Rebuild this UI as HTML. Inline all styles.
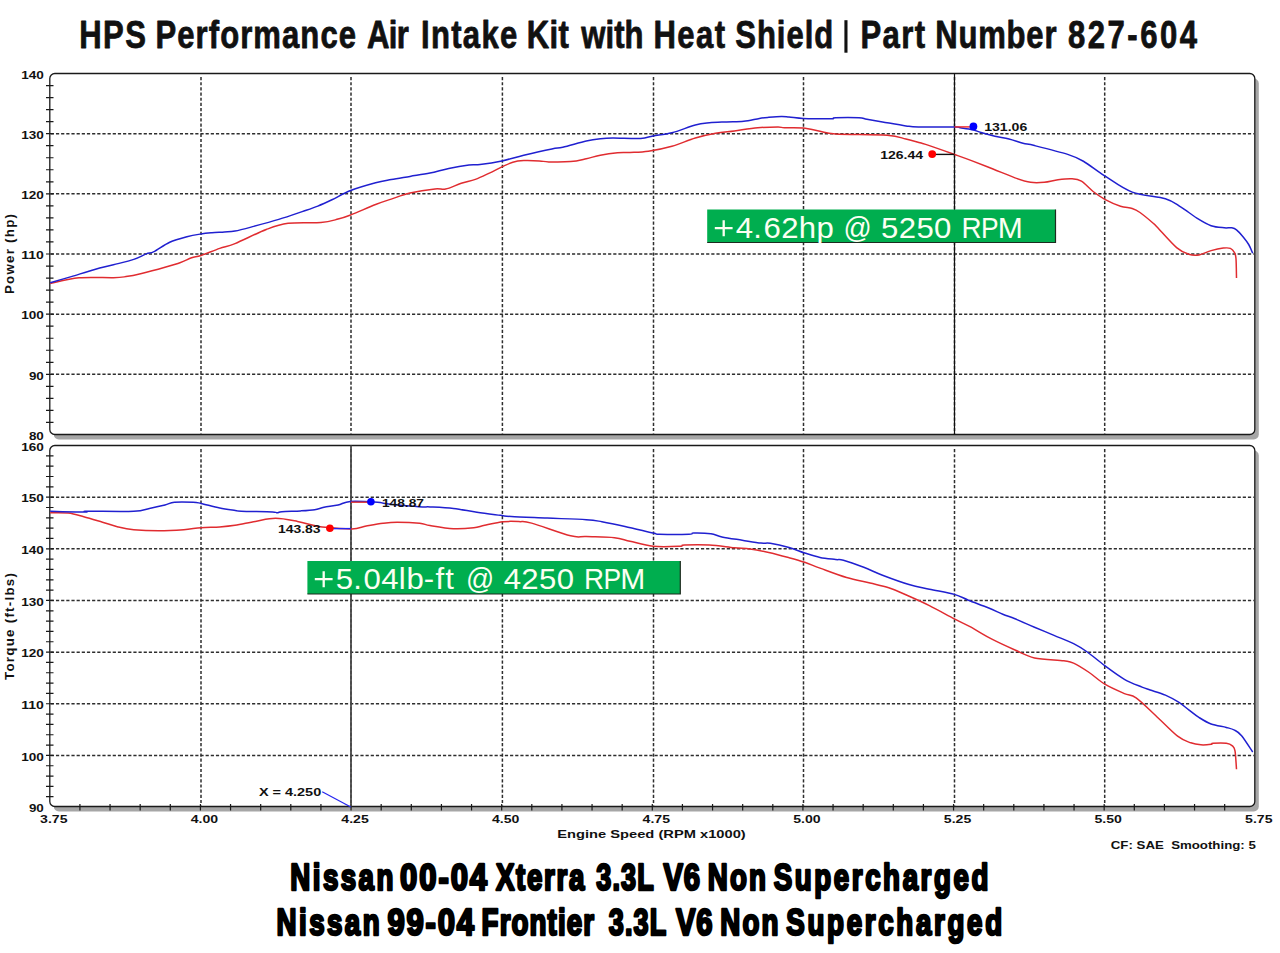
<!DOCTYPE html><html><head><meta charset="utf-8"><style>html,body{margin:0;padding:0;background:#fff;}svg{display:block;}</style></head><body>
<svg width="1280" height="953" viewBox="0 0 1280 953">
<text transform="translate(79.25,47.9) scale(0.8,1)" x="0" y="0" font-family='"Liberation Sans", sans-serif' font-weight="bold" font-size="38.8" fill="#111" stroke="#111" stroke-width="0.8" stroke-linejoin="round" textLength="83.44" lengthAdjust="spacing">HPS</text>
<text transform="translate(155.5,47.9) scale(0.8,1)" x="0" y="0" font-family='"Liberation Sans", sans-serif' font-weight="bold" font-size="38.8" fill="#111" stroke="#111" stroke-width="0.8" stroke-linejoin="round" textLength="250.62" lengthAdjust="spacing">Performance</text>
<text transform="translate(367,47.9) scale(0.8,1)" x="0" y="0" font-family='"Liberation Sans", sans-serif' font-weight="bold" font-size="38.8" fill="#111" stroke="#111" stroke-width="0.8" stroke-linejoin="round" textLength="52.19" lengthAdjust="spacing">Air</text>
<text transform="translate(421,47.9) scale(0.8,1)" x="0" y="0" font-family='"Liberation Sans", sans-serif' font-weight="bold" font-size="38.8" fill="#111" stroke="#111" stroke-width="0.8" stroke-linejoin="round" textLength="120.31" lengthAdjust="spacing">Intake</text>
<text transform="translate(526.75,47.9) scale(0.8,1)" x="0" y="0" font-family='"Liberation Sans", sans-serif' font-weight="bold" font-size="38.8" fill="#111" stroke="#111" stroke-width="0.8" stroke-linejoin="round" textLength="52.50" lengthAdjust="spacing">Kit</text>
<text transform="translate(581.25,47.9) scale(0.8,1)" x="0" y="0" font-family='"Liberation Sans", sans-serif' font-weight="bold" font-size="38.8" fill="#111" stroke="#111" stroke-width="0.8" stroke-linejoin="round" textLength="77.81" lengthAdjust="spacing">with</text>
<text transform="translate(653.5,47.9) scale(0.8,1)" x="0" y="0" font-family='"Liberation Sans", sans-serif' font-weight="bold" font-size="38.8" fill="#111" stroke="#111" stroke-width="0.8" stroke-linejoin="round" textLength="89.38" lengthAdjust="spacing">Heat</text>
<text transform="translate(735.25,47.9) scale(0.8,1)" x="0" y="0" font-family='"Liberation Sans", sans-serif' font-weight="bold" font-size="38.8" fill="#111" stroke="#111" stroke-width="0.8" stroke-linejoin="round" textLength="122.50" lengthAdjust="spacing">Shield</text>
<rect x="844.4" y="20.2" width="3.1" height="32.5" fill="#111"/>
<text transform="translate(860.5,47.9) scale(0.8,1)" x="0" y="0" font-family='"Liberation Sans", sans-serif' font-weight="bold" font-size="38.8" fill="#111" stroke="#111" stroke-width="0.8" stroke-linejoin="round" textLength="80.62" lengthAdjust="spacing">Part</text>
<text transform="translate(935.25,47.9) scale(0.8,1)" x="0" y="0" font-family='"Liberation Sans", sans-serif' font-weight="bold" font-size="38.8" fill="#111" stroke="#111" stroke-width="0.8" stroke-linejoin="round" textLength="151.56" lengthAdjust="spacing">Number</text>
<text transform="translate(1068,47.9) scale(0.8,1)" x="0" y="0" font-family='"Liberation Sans", sans-serif' font-weight="bold" font-size="38.8" fill="#111" stroke="#111" stroke-width="0.8" stroke-linejoin="round" textLength="161.25" lengthAdjust="spacing">827-604</text>
<rect x="53.8" y="78.5" width="1205.0" height="361.0" rx="5" fill="#a6a6a6"/><rect x="49.8" y="73.5" width="1205.0" height="361.0" rx="5" fill="#fff" stroke="#1a1a1a" stroke-width="1.3"/>
<rect x="53.8" y="450.5" width="1205.0" height="361.0" rx="5" fill="#a6a6a6"/><rect x="49.8" y="445.5" width="1205.0" height="361.0" rx="5" fill="#fff" stroke="#1a1a1a" stroke-width="1.3"/>
<line x1="50.8" y1="133.67" x2="1253.8" y2="133.67" stroke="#2e2e2e" stroke-width="1.5" stroke-dasharray="3.2 1.96"/><line x1="50.8" y1="193.83" x2="1253.8" y2="193.83" stroke="#2e2e2e" stroke-width="1.5" stroke-dasharray="3.2 1.96"/><line x1="50.8" y1="254.00" x2="1253.8" y2="254.00" stroke="#2e2e2e" stroke-width="1.5" stroke-dasharray="3.2 1.96"/><line x1="50.8" y1="314.17" x2="1253.8" y2="314.17" stroke="#2e2e2e" stroke-width="1.5" stroke-dasharray="3.2 1.96"/><line x1="50.8" y1="374.33" x2="1253.8" y2="374.33" stroke="#2e2e2e" stroke-width="1.5" stroke-dasharray="3.2 1.96"/><line x1="201" y1="77.0" x2="201" y2="433.5" stroke="#2e2e2e" stroke-width="1.5" stroke-dasharray="3.2 1.96"/><line x1="351" y1="77.0" x2="351" y2="433.5" stroke="#2e2e2e" stroke-width="1.5" stroke-dasharray="3.2 1.96"/><line x1="502.4" y1="77.0" x2="502.4" y2="433.5" stroke="#2e2e2e" stroke-width="1.5" stroke-dasharray="3.2 1.96"/><line x1="653.5" y1="77.0" x2="653.5" y2="433.5" stroke="#2e2e2e" stroke-width="1.5" stroke-dasharray="3.2 1.96"/><line x1="803.5" y1="77.0" x2="803.5" y2="433.5" stroke="#2e2e2e" stroke-width="1.5" stroke-dasharray="3.2 1.96"/><line x1="954.5" y1="77.0" x2="954.5" y2="433.5" stroke="#2e2e2e" stroke-width="1.5" stroke-dasharray="3.2 1.96"/><line x1="1104.7" y1="77.0" x2="1104.7" y2="433.5" stroke="#2e2e2e" stroke-width="1.5" stroke-dasharray="3.2 1.96"/><line x1="50.8" y1="497.17" x2="1253.8" y2="497.17" stroke="#2e2e2e" stroke-width="1.5" stroke-dasharray="3.2 1.96"/><line x1="50.8" y1="548.84" x2="1253.8" y2="548.84" stroke="#2e2e2e" stroke-width="1.5" stroke-dasharray="3.2 1.96"/><line x1="50.8" y1="600.51" x2="1253.8" y2="600.51" stroke="#2e2e2e" stroke-width="1.5" stroke-dasharray="3.2 1.96"/><line x1="50.8" y1="652.18" x2="1253.8" y2="652.18" stroke="#2e2e2e" stroke-width="1.5" stroke-dasharray="3.2 1.96"/><line x1="50.8" y1="703.85" x2="1253.8" y2="703.85" stroke="#2e2e2e" stroke-width="1.5" stroke-dasharray="3.2 1.96"/><line x1="50.8" y1="755.52" x2="1253.8" y2="755.52" stroke="#2e2e2e" stroke-width="1.5" stroke-dasharray="3.2 1.96"/><line x1="201" y1="449.0" x2="201" y2="805.5" stroke="#2e2e2e" stroke-width="1.5" stroke-dasharray="3.2 1.96"/><line x1="351" y1="449.0" x2="351" y2="805.5" stroke="#2e2e2e" stroke-width="1.5" stroke-dasharray="3.2 1.96"/><line x1="502.4" y1="449.0" x2="502.4" y2="805.5" stroke="#2e2e2e" stroke-width="1.5" stroke-dasharray="3.2 1.96"/><line x1="653.5" y1="449.0" x2="653.5" y2="805.5" stroke="#2e2e2e" stroke-width="1.5" stroke-dasharray="3.2 1.96"/><line x1="803.5" y1="449.0" x2="803.5" y2="805.5" stroke="#2e2e2e" stroke-width="1.5" stroke-dasharray="3.2 1.96"/><line x1="954.5" y1="449.0" x2="954.5" y2="805.5" stroke="#2e2e2e" stroke-width="1.5" stroke-dasharray="3.2 1.96"/><line x1="1104.7" y1="449.0" x2="1104.7" y2="805.5" stroke="#2e2e2e" stroke-width="1.5" stroke-dasharray="3.2 1.96"/>
<path d="M46 85.53H53.5M46 97.57H53.5M46 109.60H53.5M46 121.63H53.5M46 133.67H53.5M46 145.70H53.5M46 157.73H53.5M46 169.77H53.5M46 181.80H53.5M46 193.83H53.5M46 205.87H53.5M46 217.90H53.5M46 229.93H53.5M46 241.97H53.5M46 254.00H53.5M46 266.03H53.5M46 278.07H53.5M46 290.10H53.5M46 302.13H53.5M46 314.17H53.5M46 326.20H53.5M46 338.23H53.5M46 350.27H53.5M46 362.30H53.5M46 374.33H53.5M46 386.37H53.5M46 398.40H53.5M46 410.43H53.5M46 422.47H53.5M46 455.83H53.5M46 466.16H53.5M46 476.49H53.5M46 486.82H53.5M46 497.15H53.5M46 507.48H53.5M46 517.81H53.5M46 528.14H53.5M46 538.47H53.5M46 548.80H53.5M46 559.13H53.5M46 569.46H53.5M46 579.79H53.5M46 590.12H53.5M46 600.45H53.5M46 610.78H53.5M46 621.11H53.5M46 631.44H53.5M46 641.77H53.5M46 652.10H53.5M46 662.43H53.5M46 672.76H53.5M46 683.09H53.5M46 693.42H53.5M46 703.75H53.5M46 714.08H53.5M46 724.41H53.5M46 734.74H53.5M46 745.07H53.5M46 755.40H53.5M46 765.73H53.5M46 776.06H53.5M46 786.39H53.5M46 796.72H53.5M79.92 804V810.5M110.05 804V810.5M140.18 804V810.5M170.30 804V810.5M200.43 804V810.5M230.55 804V810.5M260.68 804V810.5M290.80 804V810.5M320.93 804V810.5M351.05 804V810.5M381.18 804V810.5M411.30 804V810.5M441.43 804V810.5M471.55 804V810.5M501.68 804V810.5M531.80 804V810.5M561.92 804V810.5M592.05 804V810.5M622.17 804V810.5M652.30 804V810.5M682.42 804V810.5M712.55 804V810.5M742.67 804V810.5M772.80 804V810.5M802.92 804V810.5M833.05 804V810.5M863.17 804V810.5M893.30 804V810.5M923.42 804V810.5M953.55 804V810.5M983.67 804V810.5M1013.80 804V810.5M1043.92 804V810.5M1074.05 804V810.5M1104.17 804V810.5M1134.30 804V810.5M1164.42 804V810.5M1194.55 804V810.5M1224.67 804V810.5" stroke="#1a1a1a" stroke-width="1.2" fill="none"/>
<line x1="954.5" y1="73.5" x2="954.5" y2="434.5" stroke="#111" stroke-width="1.2"/>
<line x1="351" y1="445.5" x2="351" y2="806.5" stroke="#4a4a4a" stroke-width="1.8"/>
<path d="M50.20 283.60C55.00 282.63 68.47 278.78 79.00 277.80C89.53 276.82 105.57 277.90 113.40 277.70C121.23 277.50 121.30 277.32 126.00 276.60C130.70 275.88 135.10 274.97 141.60 273.40C148.10 271.83 158.50 269.02 165.00 267.20C171.50 265.38 176.17 264.07 180.60 262.50C185.03 260.93 188.20 258.97 191.60 257.80C195.00 256.63 196.32 257.07 201.00 255.50C205.68 253.93 214.03 250.38 219.70 248.40C225.37 246.42 227.24 246.75 235.00 243.60C242.76 240.45 257.40 232.88 266.25 229.50C275.10 226.12 278.99 224.47 288.10 223.30C297.21 222.13 312.57 223.20 320.90 222.50C329.23 221.80 333.15 220.35 338.10 219.10C343.05 217.85 344.35 217.43 350.60 215.00C356.85 212.57 368.83 207.15 375.60 204.50C382.38 201.85 385.52 201.00 391.25 199.10C396.98 197.20 402.71 194.80 410.00 193.10C417.29 191.40 429.07 189.57 435.00 188.90C440.93 188.23 441.23 190.03 445.60 189.10C449.98 188.17 456.30 184.92 461.25 183.30C466.20 181.68 470.61 181.10 475.30 179.40C479.99 177.70 484.97 175.18 489.40 173.10C493.83 171.02 498.00 168.72 501.90 166.90C505.80 165.08 509.16 163.25 512.80 162.20C516.44 161.15 519.32 160.82 523.75 160.60C528.18 160.38 535.23 160.68 539.40 160.90C543.57 161.12 543.55 161.78 548.75 161.90C553.95 162.02 564.35 162.12 570.60 161.60C576.85 161.07 581.30 159.82 586.25 158.75C591.20 157.68 595.09 156.19 600.30 155.20C605.51 154.21 612.55 153.25 617.50 152.80C622.45 152.35 624.85 152.76 630.00 152.50C635.15 152.24 641.42 152.29 648.40 151.25C655.38 150.21 664.08 148.46 671.90 146.25C679.72 144.04 688.02 140.16 695.30 138.00C702.58 135.84 709.08 134.48 715.60 133.30C722.12 132.12 727.37 131.82 734.40 130.90C741.43 129.98 750.52 128.45 757.80 127.80C765.08 127.15 773.67 127.00 778.10 127.00C782.53 127.00 780.23 127.62 784.40 127.80C788.57 127.98 797.17 127.52 803.10 128.10C809.03 128.67 814.58 130.27 820.00 131.25C825.42 132.23 824.40 133.32 835.60 134.00C846.80 134.68 875.48 134.47 887.20 135.30C898.92 136.13 900.43 137.75 905.90 139.00C911.37 140.25 916.08 141.70 920.00 142.80C923.92 143.90 923.62 143.65 929.40 145.60C935.18 147.55 947.68 152.00 954.70 154.50C961.72 157.00 965.12 158.18 971.50 160.60C977.88 163.02 985.75 166.12 993.00 169.00C1000.25 171.88 1008.73 175.63 1015.00 177.85C1021.27 180.07 1025.72 181.56 1030.60 182.30C1035.48 183.04 1039.73 182.72 1044.30 182.30C1048.87 181.88 1053.45 180.38 1058.00 179.80C1062.55 179.22 1067.70 178.57 1071.60 178.80C1075.50 179.03 1077.82 179.08 1081.40 181.20C1084.98 183.32 1089.20 188.48 1093.10 191.50C1097.00 194.52 1100.23 196.85 1104.80 199.30C1109.37 201.75 1115.93 204.67 1120.50 206.20C1125.07 207.73 1128.95 207.45 1132.20 208.50C1135.45 209.55 1136.50 210.05 1140.00 212.50C1143.50 214.95 1150.32 220.73 1153.20 223.20C1156.08 225.67 1153.40 223.23 1157.30 227.30C1161.20 231.37 1171.36 243.12 1176.60 247.60C1181.84 252.08 1185.03 252.98 1188.75 254.20C1192.47 255.42 1195.18 255.50 1198.90 254.90C1202.62 254.30 1207.03 251.73 1211.10 250.60C1215.17 249.47 1220.08 248.47 1223.30 248.10C1226.52 247.73 1228.53 247.63 1230.40 248.40C1232.27 249.17 1233.57 250.97 1234.50 252.70C1235.43 254.42 1235.67 254.53 1236.00 258.75C1236.33 262.97 1236.42 274.79 1236.50 278.00" fill="none" stroke="#e02c30" stroke-width="1.5" stroke-linejoin="round"/>
<path d="M50.20 282.80C53.71 281.77 63.83 278.82 71.25 276.60C78.67 274.38 87.67 271.47 94.70 269.50C101.73 267.53 106.89 266.48 113.40 264.80C119.91 263.12 128.28 261.22 133.75 259.40C139.22 257.58 142.88 255.20 146.25 253.90C149.62 252.60 150.09 253.55 154.00 251.60C157.91 249.65 164.22 244.68 169.70 242.20C175.18 239.72 181.70 238.07 186.90 236.70C192.10 235.33 196.73 234.65 200.90 234.00C205.07 233.35 207.98 233.13 211.90 232.80C215.82 232.47 220.55 232.28 224.40 232.00C228.25 231.72 230.11 232.03 235.00 231.10C239.89 230.17 246.46 228.35 253.75 226.40C261.04 224.45 270.68 221.87 278.75 219.40C286.82 216.93 295.69 213.82 302.20 211.60C308.71 209.38 312.85 208.07 317.80 206.10C322.75 204.13 326.43 202.40 331.90 199.80C337.37 197.20 343.32 193.35 350.60 190.50C357.88 187.65 368.83 184.53 375.60 182.70C382.38 180.87 385.52 180.55 391.25 179.50C396.98 178.45 403.54 177.47 410.00 176.40C416.46 175.33 423.54 174.43 430.00 173.10C436.46 171.77 442.25 169.75 448.75 168.40C455.25 167.05 463.79 165.65 469.00 165.00C474.21 164.35 474.52 165.18 480.00 164.50C485.48 163.82 494.61 162.45 501.90 160.90C509.19 159.35 515.42 157.20 523.75 155.20C532.08 153.20 545.39 150.22 551.90 148.90C558.41 147.58 557.07 148.60 562.80 147.30C568.52 146.00 580.00 142.53 586.25 141.10C592.50 139.67 595.88 139.27 600.30 138.75C604.72 138.23 606.08 138.06 612.80 138.00C619.52 137.94 633.88 138.75 640.60 138.40C647.32 138.05 647.88 136.83 653.10 135.90C658.32 134.97 664.87 134.62 671.90 132.80C678.93 130.98 689.05 126.67 695.30 125.00C701.55 123.33 704.18 123.32 709.40 122.80C714.62 122.28 720.88 122.16 726.60 121.90C732.33 121.64 738.28 121.83 743.75 121.25C749.22 120.67 755.23 119.06 759.40 118.40C763.57 117.74 765.11 117.63 768.75 117.30C772.39 116.97 777.88 116.47 781.25 116.40C784.62 116.33 785.36 116.57 789.00 116.90C792.64 117.23 797.93 118.09 803.10 118.40C808.27 118.71 815.10 118.69 820.00 118.75C824.90 118.81 829.90 118.92 832.50 118.75C835.10 118.58 831.18 117.88 835.60 117.70C840.02 117.53 853.78 117.45 859.00 117.70C864.22 117.95 862.98 118.50 866.90 119.20C870.82 119.90 876.00 120.78 882.50 121.90C889.00 123.02 899.92 125.05 905.90 125.90C911.88 126.75 910.32 126.82 918.40 127.00C926.48 127.18 947.42 126.87 954.40 127.00C961.38 127.13 957.28 127.35 960.30 127.80C963.32 128.25 969.05 128.92 972.50 129.70C975.95 130.48 977.25 131.42 981.00 132.50C984.75 133.58 990.33 135.12 995.00 136.20C999.67 137.28 1004.33 137.82 1009.00 139.00C1013.67 140.18 1018.75 142.20 1023.00 143.30C1027.25 144.40 1027.05 143.75 1034.50 145.60C1041.95 147.45 1059.55 151.79 1067.70 154.40C1075.85 157.01 1077.22 157.67 1083.40 161.25C1089.58 164.83 1096.67 170.76 1104.80 175.90C1112.93 181.04 1122.10 188.29 1132.20 192.10C1142.30 195.91 1157.27 196.25 1165.40 198.75C1173.53 201.25 1175.75 203.88 1181.00 207.10C1186.25 210.32 1191.88 215.00 1196.90 218.10C1201.92 221.20 1206.53 224.08 1211.10 225.70C1215.67 227.32 1220.92 227.45 1224.30 227.80C1227.68 228.15 1229.37 227.47 1231.40 227.80C1233.43 228.13 1234.47 228.20 1236.50 229.80C1238.53 231.40 1241.57 234.95 1243.60 237.40C1245.63 239.85 1247.18 241.87 1248.70 244.50C1250.22 247.13 1252.03 251.75 1252.70 253.20" fill="none" stroke="#2020d0" stroke-width="1.5" stroke-linejoin="round"/>
<path d="M50.20 512.80C53.18 512.85 62.51 512.45 68.10 513.10C73.69 513.75 78.02 515.18 83.75 516.70C89.48 518.22 96.78 520.50 102.50 522.20C108.22 523.90 112.89 525.65 118.10 526.90C123.31 528.15 126.97 529.05 133.75 529.70C140.53 530.35 150.42 530.80 158.75 530.80C167.08 530.80 176.71 530.22 183.75 529.70C190.79 529.18 195.01 528.17 201.00 527.70C206.99 527.23 214.03 527.30 219.70 526.90C225.37 526.50 229.07 526.22 235.00 525.30C240.93 524.38 248.53 522.57 255.30 521.40C262.07 520.23 268.57 518.30 275.60 518.30C282.63 518.30 291.25 520.23 297.50 521.40C303.75 522.57 308.98 524.37 313.10 525.30C317.22 526.23 315.77 526.40 322.20 527.00C328.63 527.60 344.37 529.05 351.70 528.90C359.03 528.75 360.97 527.03 366.20 526.10C371.43 525.17 377.93 523.93 383.10 523.30C388.27 522.67 391.10 522.30 397.20 522.30C403.30 522.30 414.23 522.75 419.70 523.30C425.17 523.85 424.38 524.69 430.00 525.60C435.62 526.51 446.11 528.38 453.40 528.75C460.69 529.12 468.53 528.39 473.75 527.80C478.97 527.21 479.76 526.22 484.70 525.20C489.64 524.18 497.68 522.30 503.40 521.70C509.12 521.10 514.30 521.37 519.00 521.60C523.70 521.83 523.00 520.73 531.60 523.10C540.20 525.47 561.49 533.55 570.60 535.80C579.71 538.05 578.95 536.28 586.25 536.60C593.55 536.92 607.11 536.93 614.40 537.70C621.69 538.48 623.55 539.83 630.00 541.25C636.45 542.67 644.82 545.42 653.10 546.25C661.38 547.08 674.48 546.46 679.70 546.25C684.92 546.04 679.45 545.21 684.40 545.00C689.35 544.79 701.07 544.53 709.40 545.00C717.73 545.47 727.63 547.13 734.40 547.80C741.17 548.47 744.27 548.22 750.00 549.00C755.73 549.78 762.25 551.05 768.75 552.50C775.25 553.95 783.01 556.07 789.00 557.70C794.99 559.33 799.53 560.57 804.70 562.30C809.87 564.03 813.02 565.57 820.00 568.10C826.98 570.63 838.27 575.02 846.60 577.50C854.93 579.98 862.98 581.30 870.00 583.00C877.02 584.70 882.50 585.62 888.75 587.70C895.00 589.78 900.73 592.52 907.50 595.50C914.27 598.48 921.58 601.70 929.40 605.60C937.22 609.50 947.63 615.38 954.40 618.90C961.17 622.42 963.75 623.32 970.00 626.70C976.25 630.08 984.40 635.32 991.90 639.20C999.40 643.08 1007.90 646.88 1015.00 650.00C1022.10 653.12 1026.37 656.10 1034.50 657.90C1042.63 659.70 1057.28 659.93 1063.80 660.80C1070.32 661.67 1069.37 661.15 1073.60 663.10C1077.83 665.05 1084.00 668.98 1089.20 672.50C1094.40 676.02 1098.93 680.68 1104.80 684.20C1110.67 687.72 1119.18 691.32 1124.40 693.60C1129.62 695.88 1130.90 694.25 1136.10 697.90C1141.30 701.55 1148.68 709.12 1155.60 715.50C1162.52 721.88 1171.73 731.65 1177.60 736.20C1183.47 740.75 1186.92 741.37 1190.80 742.80C1194.68 744.23 1197.52 744.55 1200.90 744.80C1204.28 745.05 1209.07 744.55 1211.10 744.30C1213.13 744.05 1210.57 743.47 1213.10 743.30C1215.63 743.13 1223.08 742.87 1226.30 743.30C1229.52 743.73 1230.95 744.63 1232.40 745.90C1233.85 747.17 1234.32 747.02 1235.00 750.90C1235.68 754.78 1236.25 766.15 1236.50 769.20" fill="none" stroke="#e02c30" stroke-width="1.5" stroke-linejoin="round"/>
<path d="M50.20 511.25C56.05 511.38 79.18 512.00 85.30 512.00C91.42 512.00 78.83 511.38 86.90 511.25C94.98 511.12 123.33 511.73 133.75 511.25C144.17 510.77 144.19 509.44 149.40 508.40C154.61 507.36 160.83 506.03 165.00 505.00C169.17 503.97 169.72 502.67 174.40 502.20C179.08 501.73 188.67 502.00 193.10 502.20C197.53 502.40 196.57 502.42 201.00 503.40C205.43 504.38 213.98 506.92 219.70 508.10C225.42 509.28 231.71 509.98 235.30 510.50C238.89 511.02 235.05 511.00 241.25 511.25C247.45 511.50 266.51 511.74 272.50 512.00C278.49 512.26 275.63 512.85 277.20 512.80C278.77 512.75 278.00 512.02 281.90 511.70C285.80 511.38 295.13 511.23 300.60 510.90C306.07 510.57 310.80 510.30 314.70 509.70C318.60 509.10 320.10 508.08 324.00 507.30C327.90 506.52 333.72 505.98 338.10 505.00C342.48 504.02 343.73 501.87 350.30 501.40C356.87 500.93 371.72 501.83 377.50 502.20C383.28 502.57 380.63 503.05 385.00 503.60C389.37 504.15 397.45 504.95 403.70 505.50C409.95 506.05 418.12 506.67 422.50 506.90C426.88 507.13 424.85 506.65 430.00 506.90C435.15 507.15 445.58 507.50 453.40 508.40C461.22 509.30 469.08 511.15 476.90 512.30C484.72 513.45 494.57 514.58 500.30 515.30C506.03 516.02 503.43 516.13 511.25 516.60C519.07 517.07 534.70 517.58 547.20 518.10C559.70 518.62 577.13 519.10 586.25 519.70C595.37 520.30 595.44 520.58 601.90 521.70C608.36 522.82 616.47 524.50 625.00 526.40C633.53 528.30 647.37 531.80 653.10 533.10C658.83 534.40 653.42 534.02 659.40 534.20C665.38 534.38 683.27 534.40 689.00 534.20C694.73 534.00 690.10 533.08 693.75 533.00C697.40 532.92 706.21 533.10 710.90 533.75C715.59 534.40 716.68 535.82 721.90 536.90C727.12 537.98 735.68 539.17 742.20 540.20C748.72 541.23 756.32 542.58 761.00 543.10C765.68 543.62 765.63 542.57 770.30 543.30C774.97 544.03 783.27 545.88 789.00 547.50C794.73 549.12 799.53 551.33 804.70 553.00C809.87 554.67 814.85 556.42 820.00 557.50C825.15 558.58 831.70 559.03 835.60 559.50C839.50 559.97 838.71 559.00 843.40 560.30C848.09 561.60 857.23 564.82 863.75 567.30C870.27 569.78 874.96 572.33 882.50 575.20C890.04 578.07 901.18 582.17 909.00 584.50C916.82 586.83 921.83 587.55 929.40 589.20C936.97 590.85 947.90 592.57 954.40 594.40C960.90 596.23 962.67 597.93 968.40 600.20C974.12 602.47 983.02 605.67 988.75 608.00C994.48 610.33 998.42 612.40 1002.80 614.20C1007.17 616.00 1009.72 616.63 1015.00 618.80C1020.28 620.97 1028.00 624.43 1034.50 627.20C1041.00 629.97 1047.48 632.67 1054.00 635.40C1060.52 638.13 1068.05 640.83 1073.60 643.60C1079.15 646.37 1082.10 648.32 1087.30 652.00C1092.50 655.68 1098.62 661.15 1104.80 665.70C1110.98 670.25 1118.20 675.73 1124.40 679.30C1130.60 682.87 1137.70 685.32 1142.00 687.10C1146.30 688.88 1146.30 688.67 1150.20 690.00C1154.10 691.33 1160.67 693.07 1165.40 695.10C1170.13 697.13 1174.71 699.75 1178.60 702.20C1182.49 704.65 1185.37 707.27 1188.75 709.80C1192.13 712.33 1195.18 715.03 1198.90 717.40C1202.62 719.77 1206.53 722.33 1211.10 724.00C1215.67 725.67 1222.40 726.38 1226.30 727.40C1230.20 728.42 1231.95 728.72 1234.50 730.10C1237.05 731.48 1238.57 732.05 1241.60 735.70C1244.63 739.35 1250.85 749.28 1252.70 752.00" fill="none" stroke="#2020d0" stroke-width="1.5" stroke-linejoin="round"/>
<line x1="932.2" y1="154.4" x2="954.5" y2="154.4" stroke="#111" stroke-width="1.4"/>
<circle cx="932.2" cy="154.1" r="3.9" fill="#ff0000"/>
<line x1="954.5" y1="126.9" x2="973.4" y2="126.9" stroke="#f02424" stroke-width="1.4"/>
<circle cx="973.4" cy="126.4" r="3.9" fill="#0000ff"/>
<line x1="351" y1="502.2" x2="370.9" y2="502.2" stroke="#e03030" stroke-width="1.4"/>
<circle cx="370.9" cy="501.7" r="3.8" fill="#0000ff"/>
<line x1="329.9" y1="528.6" x2="351" y2="528.6" stroke="#2424f0" stroke-width="1.4"/>
<circle cx="329.9" cy="528.2" r="3.8" fill="#ff0000"/>
<line x1="322.2" y1="791.7" x2="350.75" y2="807" stroke="#2424f0" stroke-width="1.2"/>
<text x="21.2" y="78.70" font-family='"Liberation Sans", sans-serif' font-weight="bold" font-size="11" fill="#111" text-anchor="start" textLength="22.6" lengthAdjust="spacingAndGlyphs">140</text>
<text x="21.2" y="138.87" font-family='"Liberation Sans", sans-serif' font-weight="bold" font-size="11" fill="#111" text-anchor="start" textLength="22.6" lengthAdjust="spacingAndGlyphs">130</text>
<text x="21.2" y="199.03" font-family='"Liberation Sans", sans-serif' font-weight="bold" font-size="11" fill="#111" text-anchor="start" textLength="22.6" lengthAdjust="spacingAndGlyphs">120</text>
<text x="21.2" y="259.20" font-family='"Liberation Sans", sans-serif' font-weight="bold" font-size="11" fill="#111" text-anchor="start" textLength="22.6" lengthAdjust="spacingAndGlyphs">110</text>
<text x="21.2" y="319.37" font-family='"Liberation Sans", sans-serif' font-weight="bold" font-size="11" fill="#111" text-anchor="start" textLength="22.6" lengthAdjust="spacingAndGlyphs">100</text>
<text x="28.9" y="379.53" font-family='"Liberation Sans", sans-serif' font-weight="bold" font-size="11" fill="#111" text-anchor="start" textLength="14.9" lengthAdjust="spacingAndGlyphs">90</text>
<text x="28.9" y="439.70" font-family='"Liberation Sans", sans-serif' font-weight="bold" font-size="11" fill="#111" text-anchor="start" textLength="14.9" lengthAdjust="spacingAndGlyphs">80</text>
<text x="21.2" y="450.70" font-family='"Liberation Sans", sans-serif' font-weight="bold" font-size="11" fill="#111" text-anchor="start" textLength="22.6" lengthAdjust="spacingAndGlyphs">160</text>
<text x="21.2" y="502.37" font-family='"Liberation Sans", sans-serif' font-weight="bold" font-size="11" fill="#111" text-anchor="start" textLength="22.6" lengthAdjust="spacingAndGlyphs">150</text>
<text x="21.2" y="554.04" font-family='"Liberation Sans", sans-serif' font-weight="bold" font-size="11" fill="#111" text-anchor="start" textLength="22.6" lengthAdjust="spacingAndGlyphs">140</text>
<text x="21.2" y="605.71" font-family='"Liberation Sans", sans-serif' font-weight="bold" font-size="11" fill="#111" text-anchor="start" textLength="22.6" lengthAdjust="spacingAndGlyphs">130</text>
<text x="21.2" y="657.38" font-family='"Liberation Sans", sans-serif' font-weight="bold" font-size="11" fill="#111" text-anchor="start" textLength="22.6" lengthAdjust="spacingAndGlyphs">120</text>
<text x="21.2" y="709.05" font-family='"Liberation Sans", sans-serif' font-weight="bold" font-size="11" fill="#111" text-anchor="start" textLength="22.6" lengthAdjust="spacingAndGlyphs">110</text>
<text x="21.2" y="760.72" font-family='"Liberation Sans", sans-serif' font-weight="bold" font-size="11" fill="#111" text-anchor="start" textLength="22.6" lengthAdjust="spacingAndGlyphs">100</text>
<text x="28.9" y="812.39" font-family='"Liberation Sans", sans-serif' font-weight="bold" font-size="11" fill="#111" text-anchor="start" textLength="14.9" lengthAdjust="spacingAndGlyphs">90</text>
<text x="40.10" y="822.9" font-family='"Liberation Sans", sans-serif' font-weight="bold" font-size="11" fill="#111" text-anchor="start" textLength="27.4" lengthAdjust="spacingAndGlyphs">3.75</text>
<text x="190.73" y="822.9" font-family='"Liberation Sans", sans-serif' font-weight="bold" font-size="11" fill="#111" text-anchor="start" textLength="27.4" lengthAdjust="spacingAndGlyphs">4.00</text>
<text x="341.35" y="822.9" font-family='"Liberation Sans", sans-serif' font-weight="bold" font-size="11" fill="#111" text-anchor="start" textLength="27.4" lengthAdjust="spacingAndGlyphs">4.25</text>
<text x="491.98" y="822.9" font-family='"Liberation Sans", sans-serif' font-weight="bold" font-size="11" fill="#111" text-anchor="start" textLength="27.4" lengthAdjust="spacingAndGlyphs">4.50</text>
<text x="642.60" y="822.9" font-family='"Liberation Sans", sans-serif' font-weight="bold" font-size="11" fill="#111" text-anchor="start" textLength="27.4" lengthAdjust="spacingAndGlyphs">4.75</text>
<text x="793.22" y="822.9" font-family='"Liberation Sans", sans-serif' font-weight="bold" font-size="11" fill="#111" text-anchor="start" textLength="27.4" lengthAdjust="spacingAndGlyphs">5.00</text>
<text x="943.85" y="822.9" font-family='"Liberation Sans", sans-serif' font-weight="bold" font-size="11" fill="#111" text-anchor="start" textLength="27.4" lengthAdjust="spacingAndGlyphs">5.25</text>
<text x="1094.47" y="822.9" font-family='"Liberation Sans", sans-serif' font-weight="bold" font-size="11" fill="#111" text-anchor="start" textLength="27.4" lengthAdjust="spacingAndGlyphs">5.50</text>
<text x="1245.10" y="822.9" font-family='"Liberation Sans", sans-serif' font-weight="bold" font-size="11" fill="#111" text-anchor="start" textLength="27.4" lengthAdjust="spacingAndGlyphs">5.75</text>
<text x="557.3" y="837.5" font-family='"Liberation Sans", sans-serif' font-weight="bold" font-size="11" fill="#111" text-anchor="start" textLength="188.4" lengthAdjust="spacingAndGlyphs">Engine Speed (RPM x1000)</text>
<text x="1110.8" y="849.1" font-family='"Liberation Sans", sans-serif' font-weight="bold" font-size="11" fill="#111" text-anchor="start" textLength="145" lengthAdjust="spacingAndGlyphs" xml:space="preserve">CF: SAE  Smoothing: 5</text>
<g transform="translate(13.9,294) rotate(-90)"><text x="0" y="0" font-family='"Liberation Sans", sans-serif' font-weight="bold" font-size="13.3" fill="#111" text-anchor="start" textLength="80" lengthAdjust="spacing">Power (hp)</text></g>
<g transform="translate(13.9,680) rotate(-90)"><text x="0" y="0" font-family='"Liberation Sans", sans-serif' font-weight="bold" font-size="13.3" fill="#111" text-anchor="start" textLength="107" lengthAdjust="spacing">Torque (ft-lbs)</text></g>
<text x="880.2" y="159.1" font-family='"Liberation Sans", sans-serif' font-weight="bold" font-size="11" fill="#111" text-anchor="start" textLength="42.9" lengthAdjust="spacingAndGlyphs">126.44</text>
<text x="984.2" y="131.1" font-family='"Liberation Sans", sans-serif' font-weight="bold" font-size="11" fill="#111" text-anchor="start" textLength="43.1" lengthAdjust="spacingAndGlyphs">131.06</text>
<text x="381.9" y="506.6" font-family='"Liberation Sans", sans-serif' font-weight="bold" font-size="11" fill="#111" text-anchor="start" textLength="42.1" lengthAdjust="spacingAndGlyphs">148.87</text>
<text x="278" y="533.1" font-family='"Liberation Sans", sans-serif' font-weight="bold" font-size="11" fill="#111" text-anchor="start" textLength="42.6" lengthAdjust="spacingAndGlyphs">143.83</text>
<text x="258.9" y="796" font-family='"Liberation Sans", sans-serif' font-weight="bold" font-size="11" fill="#111" text-anchor="start" textLength="62.3" lengthAdjust="spacingAndGlyphs">X = 4.250</text>
<rect x="707.2" y="209.5" width="348.3" height="33" fill="#00ae4f"/>
<path d="M707.2 242.5H1055.5V209.5" fill="none" stroke="#1d2b1f" stroke-width="1.2"/>
<path d="M714.80 228.15H732.60M723.70 220.15V236.15" stroke="#fbfff2" stroke-width="2.3" fill="none"/><text transform="translate(735.69,237.6) scale(1.12,1.08)" font-family='"Liberation Sans", sans-serif' font-size="27.8" fill="#fbfff2">4</text><text transform="translate(753.37,237.6) scale(1.12,1.08)" font-family='"Liberation Sans", sans-serif' font-size="27.8" fill="#fbfff2">.</text><text transform="translate(763.48,237.6) scale(1.12,1.08)" font-family='"Liberation Sans", sans-serif' font-size="27.8" fill="#fbfff2">6</text><text transform="translate(781.15,237.6) scale(1.12,1.08)" font-family='"Liberation Sans", sans-serif' font-size="27.8" fill="#fbfff2">2</text><text transform="translate(798.82,237.6) scale(1.12,1.08)" font-family='"Liberation Sans", sans-serif' font-size="27.8" fill="#fbfff2">h</text><text transform="translate(816.42,237.6) scale(1.12,1.08)" font-family='"Liberation Sans", sans-serif' font-size="27.8" fill="#fbfff2">p</text><text transform="translate(843.51,237.6) scale(1.0,1.08)" font-family='"Liberation Sans", sans-serif' font-size="27.8" fill="#fbfff2">@</text><text transform="translate(881.08,237.6) scale(1.12,1.08)" font-family='"Liberation Sans", sans-serif' font-size="27.8" fill="#fbfff2">5</text><text transform="translate(898.76,237.6) scale(1.12,1.08)" font-family='"Liberation Sans", sans-serif' font-size="27.8" fill="#fbfff2">2</text><text transform="translate(916.43,237.6) scale(1.12,1.08)" font-family='"Liberation Sans", sans-serif' font-size="27.8" fill="#fbfff2">5</text><text transform="translate(934.10,237.6) scale(1.12,1.08)" font-family='"Liberation Sans", sans-serif' font-size="27.8" fill="#fbfff2">0</text><text transform="translate(961.55,237.6) scale(1.0,1.08)" font-family='"Liberation Sans", sans-serif' font-size="27.8" fill="#fbfff2">R</text><text transform="translate(980.88,237.6) scale(0.95,1.08)" font-family='"Liberation Sans", sans-serif' font-size="27.8" fill="#fbfff2">P</text><text transform="translate(997.67,237.6) scale(1.08,1.08)" font-family='"Liberation Sans", sans-serif' font-size="27.8" fill="#fbfff2">M</text>
<rect x="307.4" y="561" width="372.9" height="33" fill="#00ae4f"/>
<path d="M307.4 594H680.3V561" fill="none" stroke="#1d2b1f" stroke-width="1.2"/>
<path d="M314.80 579.15H332.60M323.70 571.15V587.15" stroke="#fbfff2" stroke-width="2.3" fill="none"/><text transform="translate(335.69,588.6) scale(1.12,1.08)" font-family='"Liberation Sans", sans-serif' font-size="27.8" fill="#fbfff2">5</text><text transform="translate(353.37,588.6) scale(1.12,1.08)" font-family='"Liberation Sans", sans-serif' font-size="27.8" fill="#fbfff2">.</text><text transform="translate(363.48,588.6) scale(1.12,1.08)" font-family='"Liberation Sans", sans-serif' font-size="27.8" fill="#fbfff2">0</text><text transform="translate(381.15,588.6) scale(1.12,1.08)" font-family='"Liberation Sans", sans-serif' font-size="27.8" fill="#fbfff2">4</text><text transform="translate(398.82,588.6) scale(1.12,1.08)" font-family='"Liberation Sans", sans-serif' font-size="27.8" fill="#fbfff2">l</text><text transform="translate(406.45,588.6) scale(1.12,1.08)" font-family='"Liberation Sans", sans-serif' font-size="27.8" fill="#fbfff2">b</text><text transform="translate(423.77,588.6) scale(1.12,1.08)" font-family='"Liberation Sans", sans-serif' font-size="27.8" fill="#fbfff2">-</text><text transform="translate(435.55,588.6) scale(1.12,1.08)" font-family='"Liberation Sans", sans-serif' font-size="27.8" fill="#fbfff2">f</text><text transform="translate(445.33,588.6) scale(1.12,1.08)" font-family='"Liberation Sans", sans-serif' font-size="27.8" fill="#fbfff2">t</text><text transform="translate(466.06,588.6) scale(1.0,1.08)" font-family='"Liberation Sans", sans-serif' font-size="27.8" fill="#fbfff2">@</text><text transform="translate(503.63,588.6) scale(1.12,1.08)" font-family='"Liberation Sans", sans-serif' font-size="27.8" fill="#fbfff2">4</text><text transform="translate(521.30,588.6) scale(1.12,1.08)" font-family='"Liberation Sans", sans-serif' font-size="27.8" fill="#fbfff2">2</text><text transform="translate(538.98,588.6) scale(1.12,1.08)" font-family='"Liberation Sans", sans-serif' font-size="27.8" fill="#fbfff2">5</text><text transform="translate(556.65,588.6) scale(1.12,1.08)" font-family='"Liberation Sans", sans-serif' font-size="27.8" fill="#fbfff2">0</text><text transform="translate(584.09,588.6) scale(1.0,1.08)" font-family='"Liberation Sans", sans-serif' font-size="27.8" fill="#fbfff2">R</text><text transform="translate(603.42,588.6) scale(0.95,1.08)" font-family='"Liberation Sans", sans-serif' font-size="27.8" fill="#fbfff2">P</text><text transform="translate(620.22,588.6) scale(1.08,1.08)" font-family='"Liberation Sans", sans-serif' font-size="27.8" fill="#fbfff2">M</text>
<text transform="translate(290.35000000000014,890.2) scale(0.76,1)" x="0" y="0" font-family='"Liberation Sans", sans-serif' font-weight="bold" font-size="36.5" fill="#000" stroke="#000" stroke-width="2.5" stroke-linejoin="round" textLength="135.59" lengthAdjust="spacing">Nissan</text>
<text transform="translate(400.0,890.2) scale(0.85,1)" x="0" y="0" font-family='"Liberation Sans", sans-serif' font-weight="bold" font-size="36.5" fill="#000" stroke="#000" stroke-width="2.5" stroke-linejoin="round" textLength="102.47" lengthAdjust="spacing">00-04</text>
<text transform="translate(495.9,890.2) scale(0.76,1)" x="0" y="0" font-family='"Liberation Sans", sans-serif' font-weight="bold" font-size="36.5" fill="#000" stroke="#000" stroke-width="2.5" stroke-linejoin="round" textLength="116.51" lengthAdjust="spacing">Xterra</text>
<text transform="translate(596.2500000000003,890.2) scale(0.74,1)" x="0" y="0" font-family='"Liberation Sans", sans-serif' font-weight="bold" font-size="36.5" fill="#000" stroke="#000" stroke-width="2.5" stroke-linejoin="round" textLength="77.70" lengthAdjust="spacing">3.3L</text>
<text transform="translate(663.4000000000001,890.2) scale(0.8,1)" x="0" y="0" font-family='"Liberation Sans", sans-serif' font-weight="bold" font-size="36.5" fill="#000" stroke="#000" stroke-width="2.5" stroke-linejoin="round" textLength="45.75" lengthAdjust="spacing">V6</text>
<text transform="translate(707.8499999999997,890.2) scale(0.76,1)" x="0" y="0" font-family='"Liberation Sans", sans-serif' font-weight="bold" font-size="36.5" fill="#000" stroke="#000" stroke-width="2.5" stroke-linejoin="round" textLength="76.38" lengthAdjust="spacing">Non</text>
<text transform="translate(773.7499999999997,890.2) scale(0.76,1)" x="0" y="0" font-family='"Liberation Sans", sans-serif' font-weight="bold" font-size="36.5" fill="#000" stroke="#000" stroke-width="2.5" stroke-linejoin="round" textLength="282.43" lengthAdjust="spacing">Supercharged</text>
<text transform="translate(276.6,934.8) scale(0.76,1)" x="0" y="0" font-family='"Liberation Sans", sans-serif' font-weight="bold" font-size="36.5" fill="#000" stroke="#000" stroke-width="2.5" stroke-linejoin="round" textLength="135.59" lengthAdjust="spacing">Nissan</text>
<text transform="translate(387.5,934.8) scale(0.85,1)" x="0" y="0" font-family='"Liberation Sans", sans-serif' font-weight="bold" font-size="36.5" fill="#000" stroke="#000" stroke-width="2.5" stroke-linejoin="round" textLength="101.88" lengthAdjust="spacing">99-04</text>
<text transform="translate(481.6,934.8) scale(0.76,1)" x="0" y="0" font-family='"Liberation Sans", sans-serif' font-weight="bold" font-size="36.5" fill="#000" stroke="#000" stroke-width="2.5" stroke-linejoin="round" textLength="148.03" lengthAdjust="spacing">Frontier</text>
<text transform="translate(608.7499999999997,934.8) scale(0.74,1)" x="0" y="0" font-family='"Liberation Sans", sans-serif' font-weight="bold" font-size="36.5" fill="#000" stroke="#000" stroke-width="2.5" stroke-linejoin="round" textLength="77.70" lengthAdjust="spacing">3.3L</text>
<text transform="translate(675.9,934.8) scale(0.8,1)" x="0" y="0" font-family='"Liberation Sans", sans-serif' font-weight="bold" font-size="36.5" fill="#000" stroke="#000" stroke-width="2.5" stroke-linejoin="round" textLength="45.75" lengthAdjust="spacing">V6</text>
<text transform="translate(720.3500000000004,934.8) scale(0.76,1)" x="0" y="0" font-family='"Liberation Sans", sans-serif' font-weight="bold" font-size="36.5" fill="#000" stroke="#000" stroke-width="2.5" stroke-linejoin="round" textLength="76.38" lengthAdjust="spacing">Non</text>
<text transform="translate(786.2500000000003,934.8) scale(0.76,1)" x="0" y="0" font-family='"Liberation Sans", sans-serif' font-weight="bold" font-size="36.5" fill="#000" stroke="#000" stroke-width="2.5" stroke-linejoin="round" textLength="284.08" lengthAdjust="spacing">Supercharged</text>
</svg></body></html>
